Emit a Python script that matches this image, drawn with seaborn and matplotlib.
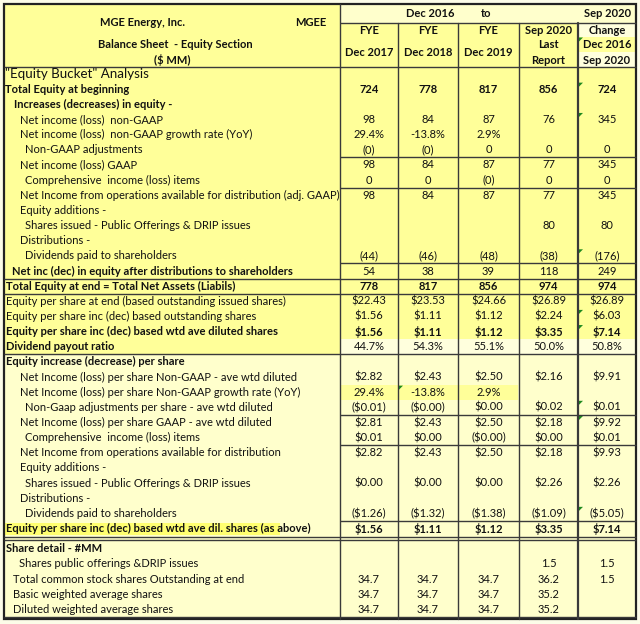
import matplotlib
matplotlib.use("Agg")
import matplotlib.pyplot as plt
from matplotlib.colors import ListedColormap
from matplotlib.patches import Rectangle, Polygon
import seaborn as sns
import numpy as np

# Table text
company = "MGE Energy, Inc."
ticker = "MGEE"
sheet_title = ["Balance Sheet  - Equity Section", "($ MM)"]
period_span = ["Dec 2016", "to", "Sep 2020"]
col_heads = [["FYE", "Dec 2017"], ["FYE", "Dec 2018"], ["FYE", "Dec 2019"],
             ["Sep 2020", "Last", "Report"], ["Change", "Dec 2016", "Sep 2020"]]

equity_labels = [
    '"Equity Bucket" Analysis',
    "Total Equity at beginning",
    "Increases (decreases) in equity -",
    "Net income (loss)  non-GAAP",
    "Net income (loss)  non-GAAP growth rate (YoY)",
    "Non-GAAP adjustments",
    "Net income (loss) GAAP",
    "Comprehensive  income (loss) items",
    "Net Income from operations available for distribution (adj. GAAP)",
    "Equity additions -",
    "Shares issued - Public Offerings & DRIP issues",
    "Distributions -",
    "Dividends paid to shareholders",
    "Net inc (dec) in equity after distributions to shareholders",
    "Total Equity at end = Total Net Assets (Liabils)",
    "Equity per share at end (based outstanding issued shares)",
    "Equity per share inc (dec) based outstanding shares",
    "Equity per share inc (dec) based wtd ave diluted shares",
    "Dividend payout ratio",
]
equity_values = [
    ["", "", "", "", ""],
    ["724", "778", "817", "856", "724"],
    ["", "", "", "", ""],
    ["98", "84", "87", "76", "345"],
    ["29.4%", "-13.8%", "2.9%", "", ""],
    ["(0)", "(0)", "0", "0", "0"],
    ["98", "84", "87", "77", "345"],
    ["0", "0", "(0)", "0", "0"],
    ["98", "84", "87", "77", "345"],
    ["", "", "", "", ""],
    ["", "", "", "80", "80"],
    ["", "", "", "", ""],
    ["(44)", "(46)", "(48)", "(38)", "(176)"],
    ["54", "38", "39", "118", "249"],
    ["778", "817", "856", "974", "974"],
    ["$22.43", "$23.53", "$24.66", "$26.89", "$26.89"],
    ["$1.56", "$1.11", "$1.12", "$2.24", "$6.03"],
    ["$1.56", "$1.11", "$1.12", "$3.35", "$7.14"],
    ["44.7%", "54.3%", "55.1%", "50.0%", "50.8%"],
]

per_share_labels = [
    "Equity increase (decrease) per share",
    "Net Income (loss) per share Non-GAAP - ave wtd diluted",
    "Net Income (loss) per share Non-GAAP growth rate (YoY)",
    "Non-Gaap adjustments per share - ave wtd diluted",
    "Net Income (loss) per share GAAP - ave wtd diluted",
    "Comprehensive  income (loss) items",
    "Net Income from operations available for distribution",
    "Equity additions -",
    "Shares issued - Public Offerings & DRIP issues",
    "Distributions -",
    "Dividends paid to shareholders",
    "Equity per share inc (dec) based wtd ave dil. shares (as above)",
]
per_share_values = [
    ["", "", "", "", ""],
    ["$2.82", "$2.43", "$2.50", "$2.16", "$9.91"],
    ["29.4%", "-13.8%", "2.9%", "", ""],
    ["($0.01)", "($0.00)", "$0.00", "$0.02", "$0.01"],
    ["$2.81", "$2.43", "$2.50", "$2.18", "$9.92"],
    ["$0.01", "$0.00", "($0.00)", "$0.00", "$0.01"],
    ["$2.82", "$2.43", "$2.50", "$2.18", "$9.93"],
    ["", "", "", "", ""],
    ["$0.00", "$0.00", "$0.00", "$2.26", "$2.26"],
    ["", "", "", "", ""],
    ["($1.26)", "($1.32)", "($1.38)", "($1.09)", "($5.05)"],
    ["$1.56", "$1.11", "$1.12", "$3.35", "$7.14"],
]

share_labels = [
    "Share detail - #MM",
    "Shares public offerings &DRIP issues",
    "Total common stock shares Outstanding at end",
    "Basic weighted average shares",
    "Diluted weighted average shares",
]
share_values = [
    ["", "", "", "", ""],
    ["", "", "", "1.5", "1.5"],
    ["34.7", "34.7", "34.7", "36.2", "1.5"],
    ["34.7", "34.7", "34.7", "35.2", ""],
    ["34.7", "34.7", "34.7", "35.2", ""],
]

# Styling per row (indent in px, bold label, bold values)
indent = [5, 5, 14, 20, 20, 25, 20, 25, 20, 20, 25, 20, 25, 12, 6, 6, 6, 6, 6,
          6, 20, 20, 25, 20, 25, 20, 20, 25, 20, 25, 6,
          6, 19, 13, 13, 13]
bold_label = {1, 2, 13, 14, 17, 18, 19, 30, 31}
bold_value = {1, 14, 17, 30}
comment_marks = [(1, 4), (3, 4), (12, 4), (16, 4), (17, 4), (21, 1), (22, 4),
                 (23, 4), (29, 4)]

YEL = "#FFFF99"
LIGHT = "#FFFFCC"
PALE = "#FFFFDD"
HILITE = "#FFFF70"
LINE = "#3a3a3a"

sns.set_theme(style="white")
plt.rcParams["font.family"] = ["Liberation Sans Narrow", "Lato", "DejaVu Sans"]
fs = 8.0

W, H = 640, 624
fig = plt.figure(figsize=(W / 100, H / 100), dpi=100, facecolor="#FCFCE8")

x_edges = [4, 340, 398, 458, 519, 578, 636]
col_mid = [(x_edges[i] + x_edges[i + 1]) / 2 for i in range(1, 6)]
head_top, head_mid, head_bot = 4, 23, 66.5
row_h = 15.15
main_rows = len(equity_labels) + len(per_share_labels)
main_bot = head_bot + main_rows * row_h
low_top = main_bot + 5
low_bot = low_top + len(share_labels) * row_h
frame_bot = low_bot + 2.5

labels = equity_labels + per_share_labels + share_labels
values = equity_values + per_share_values + share_values


def row_top(i):
    if i < main_rows:
        return head_bot + i * row_h
    return low_top + (i - main_rows) * row_h


# background axes for the label column and header
bg = fig.add_axes([0, 0, 1, 1], zorder=0)
bg.set_xlim(0, W)
bg.set_ylim(H, 0)
bg.axis("off")
bg.add_patch(Rectangle((4, 4), 336, head_bot - 4, color=YEL, lw=0))
bg.add_patch(Rectangle((340, 4), 296, head_mid - 4, color=LIGHT, lw=0))
bg.add_patch(Rectangle((340, head_mid), 238, head_bot - head_mid, color=YEL, lw=0))
bg.add_patch(Rectangle((578, head_mid), 58, 13.5, color=PALE, lw=0))
bg.add_patch(Rectangle((578, head_mid + 13.5), 58, 15, color=YEL, lw=0))
bg.add_patch(Rectangle((578, head_mid + 28.5), 58, head_bot - head_mid - 28.5,
                       color=PALE, lw=0))
n_yel = len(equity_labels)
bg.add_patch(Rectangle((4, head_bot), 336, n_yel * row_h, color=YEL, lw=0))
bg.add_patch(Rectangle((4, head_bot + n_yel * row_h), 336,
                       frame_bot - head_bot - n_yel * row_h, color=LIGHT, lw=0))
bg.add_patch(Rectangle((340, main_bot), 296, low_top - main_bot, color=LIGHT, lw=0))
bg.add_patch(Rectangle((4, row_top(30) + 1.5), 276, row_h - 3, color=HILITE, lw=0))

# data cell shading drawn as seaborn heatmaps
shade = np.zeros((main_rows, 5))
shade[len(equity_labels) - 1, :] = 2
shade[len(equity_labels):, :] = 1
shade[len(equity_labels) + 2, :3] = 0
cmap = ListedColormap([YEL, LIGHT, PALE])
hax = fig.add_axes([340 / W, 1 - main_bot / H, 296 / W, (main_bot - head_bot) / H],
                   zorder=1)
sns.heatmap(shade, cmap=cmap, vmin=-0.5, vmax=2.5, cbar=False, ax=hax,
            xticklabels=False, yticklabels=False)
hax.axis("off")
lax = fig.add_axes([340 / W, 1 - low_bot / H, 296 / W, (low_bot - low_top) / H],
                   zorder=1)
sns.heatmap(np.ones((len(share_labels), 5)), cmap=cmap, vmin=-0.5, vmax=2.5,
            cbar=False, ax=lax, xticklabels=False, yticklabels=False)
lax.axis("off")

# overlay for grid lines and text
ax = fig.add_axes([0, 0, 1, 1], zorder=3)
ax.set_xlim(0, W)
ax.set_ylim(H, 0)
ax.axis("off")


def hline(y, x0=340, x1=636, lw=1.0):
    ax.plot([x0, x1], [y, y], color=LINE, lw=lw, solid_capstyle="butt")


hline(head_mid)
hline(head_bot, 4)
for r in [6, 8, 13, 23, 25, 30]:
    hline(row_top(r))
for r in [14, 15, 19]:
    hline(row_top(r), 4)
hline(main_bot + 0.5, 4)
hline(main_bot + 3.5, 4)
hline(low_bot, 4)
ax.plot([340, 340], [head_top, frame_bot], color=LINE, lw=1.0)
for x in x_edges[2:5]:
    ax.plot([x, x], [head_mid, frame_bot], color=LINE, lw=1.0)
ax.plot([578, 578], [head_mid, frame_bot], color=LINE, lw=1.6)
ax.add_patch(Rectangle((4, head_top), 632, frame_bot - head_top, fill=False,
                       ec="#222222", lw=1.6))

# comment indicators
for r, c in comment_marks:
    x0, y0 = x_edges[c + 1] + 1, row_top(r) + 1
    ax.add_patch(Polygon([[x0, y0], [x0 + 4, y0], [x0, y0 + 4]], color="#1f8a1f",
                         lw=0))
ax.add_patch(Polygon([[579, head_mid + 14.5], [583, head_mid + 14.5],
                      [579, head_mid + 18.5]], color="#1f8a1f", lw=0))

# header text
hk = dict(fontsize=fs, fontweight="bold", va="center", color="#111111")
ax.text(142, 22, company, ha="center", **hk)
ax.text(311, 22, ticker, ha="center", **hk)
ax.text(175, 44, sheet_title[0], ha="center", **hk)
ax.text(172, 60, sheet_title[1], ha="center", **hk)
ax.text(430, 13.5, period_span[0], ha="center", **hk)
ax.text(486, 13.5, period_span[1], ha="center", **hk)
ax.text(608, 13.5, period_span[2], ha="center", **hk)
for c, head in enumerate(col_heads):
    ys = [31, 52] if len(head) == 2 else [31, 44.5, 60]
    for y, s in zip(ys, head):
        ax.text(col_mid[c], y, s, ha="center", **hk)

# body text
for i, (lab, vals) in enumerate(zip(labels, values)):
    yc = row_top(i) + row_h / 2
    if i == 0:
        ax.text(indent[i], yc, lab, fontsize=9.6, va="center", color="#111111")
    else:
        ax.text(indent[i], yc, lab, fontsize=fs, va="center", color="#111111",
                fontweight="bold" if i in bold_label else "normal")
    for c, v in enumerate(vals):
        if v:
            ax.text(col_mid[c], yc, v, ha="center", va="center", fontsize=fs,
                    color="#111111",
                    fontweight="bold" if i in bold_value else "normal")

fig.savefig("out.png", dpi=100, facecolor=fig.get_facecolor())
